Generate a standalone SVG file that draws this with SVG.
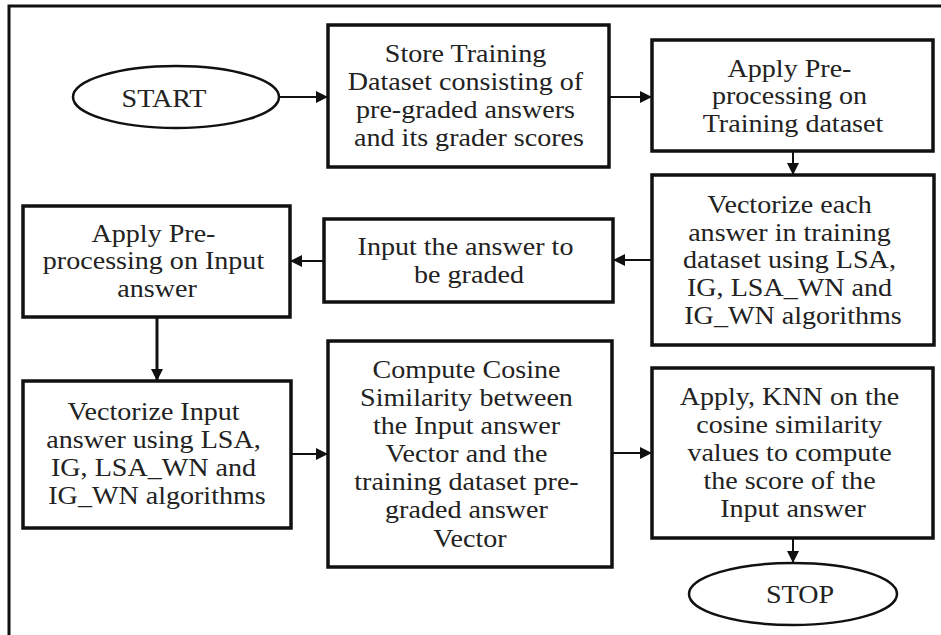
<svg xmlns="http://www.w3.org/2000/svg" width="941" height="635" viewBox="0 0 941 635">
  <style>
    .box { fill: #ffffff; stroke: #111111; stroke-width: 3.5; }
    .term { fill: #ffffff; stroke: #111111; stroke-width: 2.5; }
    .lbl { font-family: "Liberation Serif", "Times New Roman", serif; font-size: 26px; fill: #222222; text-anchor: middle; }
    .edge { fill: none; stroke: #111111; stroke-width: 2; marker-end: url(#head); }
    .frame { fill: none; stroke: #111111; stroke-width: 3; }
  </style>
  <defs>
    <marker id="head" markerUnits="userSpaceOnUse" markerWidth="13" markerHeight="12" refX="12" refY="6" orient="auto">
      <path d="M0,0 L12,6 L0,12 Z" fill="#111111"/>
    </marker>
  </defs>

  <rect width="941" height="635" fill="#ffffff"/>
  <path class="frame" d="M9,635 V6 H941"/>

  <!-- connectors -->
  <g id="connectors">
    <path class="edge" d="M279,97 H328"/>
    <path class="edge" d="M609,97 H652"/>
    <path class="edge" d="M793,151 V175"/>
    <path class="edge" d="M652,260 H613"/>
    <path class="edge" d="M324,261 H290"/>
    <path class="edge" d="M157,317 V381" style="stroke-width:3"/>
    <path class="edge" d="M291,454 H328"/>
    <path class="edge" d="M612,453 H652"/>
    <path class="edge" d="M793,538 V563"/>
  </g>

  <!-- START terminal -->
  <g id="n-start">
    <ellipse class="term" cx="176" cy="97" rx="103" ry="31"/>
    <g transform="translate(164,0) scale(1.08,1)">
      <text class="lbl" x="0" y="107">START</text>
    </g>
  </g>

  <!-- store training dataset -->
  <g id="n-store">
    <rect class="box" x="328" y="25" width="281" height="142"/>
    <g transform="translate(469,0) scale(1.08,1)">
      <text class="lbl">
        <tspan x="0" y="62">Store Training</tspan>
        <tspan x="0" y="90">Dataset consisting of</tspan>
        <tspan x="0" y="118">pre-graded answers</tspan>
        <tspan x="0" y="146">and its grader scores</tspan>
      </text>
    </g>
  </g>

  <!-- pre-processing of training data -->
  <g id="n-prep-train">
    <rect class="box" x="652" y="40" width="281" height="111"/>
    <g transform="translate(793,0) scale(1.08,1)">
      <text class="lbl">
        <tspan x="0" y="77">Apply Pre-</tspan>
        <tspan x="0" y="104">processing on</tspan>
        <tspan x="0" y="132">Training dataset</tspan>
      </text>
    </g>
  </g>

  <!-- vectorize training answers -->
  <g id="n-vec-train">
    <rect class="box" x="652" y="175" width="282" height="170"/>
    <g transform="translate(793,0) scale(1.08,1)">
      <text class="lbl">
        <tspan x="0" y="213">Vectorize each</tspan>
        <tspan x="0" y="241">answer in training</tspan>
        <tspan x="0" y="268">dataset using LSA,</tspan>
        <tspan x="0" y="296">IG, LSA_WN and</tspan>
        <tspan x="0" y="324">IG_WN algorithms</tspan>
      </text>
    </g>
  </g>

  <!-- input answer -->
  <g id="n-input">
    <rect class="box" x="324" y="219" width="289" height="83"/>
    <g transform="translate(469,0) scale(1.08,1)">
      <text class="lbl">
        <tspan x="0" y="255">Input the answer to</tspan>
        <tspan x="0" y="283">be graded</tspan>
      </text>
    </g>
  </g>

  <!-- pre-processing of input answer -->
  <g id="n-prep-input">
    <rect class="box" x="23" y="206" width="267" height="111"/>
    <g transform="translate(157,0) scale(1.08,1)">
      <text class="lbl">
        <tspan x="0" y="242">Apply Pre-</tspan>
        <tspan x="0" y="269">processing on Input</tspan>
        <tspan x="0" y="297">answer</tspan>
      </text>
    </g>
  </g>

  <!-- vectorize input answer -->
  <g id="n-vec-input">
    <rect class="box" x="23" y="381" width="268" height="147"/>
    <g transform="translate(157,0) scale(1.08,1)">
      <text class="lbl">
        <tspan x="0" y="420">Vectorize Input</tspan>
        <tspan x="0" y="448">answer using LSA,</tspan>
        <tspan x="0" y="476">IG, LSA_WN and</tspan>
        <tspan x="0" y="504">IG_WN algorithms</tspan>
      </text>
    </g>
  </g>

  <!-- cosine similarity -->
  <g id="n-cosine">
    <rect class="box" x="328" y="341" width="284" height="226"/>
    <g transform="translate(470,0) scale(1.08,1)">
      <text class="lbl">
        <tspan x="0" y="378">Compute Cosine</tspan>
        <tspan x="0" y="406">Similarity between</tspan>
        <tspan x="0" y="434">the Input answer</tspan>
        <tspan x="0" y="462">Vector and the</tspan>
        <tspan x="0" y="490">training dataset pre-</tspan>
        <tspan x="0" y="518">graded answer</tspan>
        <tspan x="0" y="547">Vector</tspan>
      </text>
    </g>
  </g>

  <!-- KNN scoring -->
  <g id="n-knn">
    <rect class="box" x="652" y="368" width="281" height="170"/>
    <g transform="translate(793,0) scale(1.08,1)">
      <text class="lbl">
        <tspan x="0" y="405">Apply, KNN on the</tspan>
        <tspan x="0" y="433">cosine similarity</tspan>
        <tspan x="0" y="461">values to compute</tspan>
        <tspan x="0" y="489">the score of the</tspan>
        <tspan x="0" y="517">Input answer</tspan>
      </text>
    </g>
  </g>

  <!-- STOP terminal -->
  <g id="n-stop">
    <ellipse class="term" cx="793" cy="594" rx="104" ry="31"/>
    <g transform="translate(800,0) scale(1.08,1)">
      <text class="lbl" x="0" y="603">STOP</text>
    </g>
  </g>
</svg>
